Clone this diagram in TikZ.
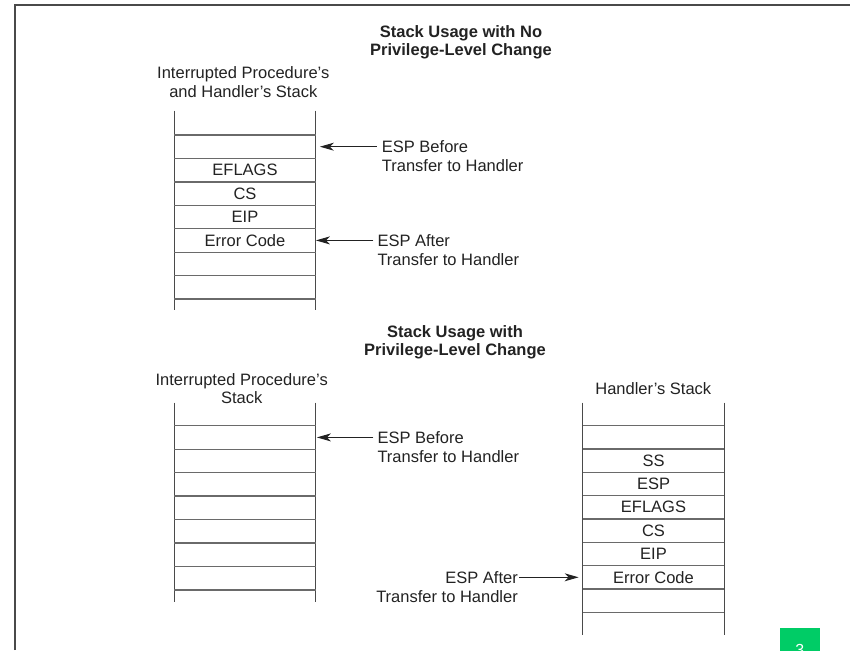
\documentclass[tikz,border=0pt]{standalone}
\usepackage{fontspec}
\setmainfont{Liberation Sans}
\usetikzlibrary{arrows.meta}
\definecolor{ink}{HTML}{222222}
\definecolor{vrule}{HTML}{4A4A4A}
\definecolor{hrule}{HTML}{6A6A6A}
\definecolor{tag}{HTML}{00CC66}
\begin{document}
\begin{tikzpicture}[x=1pt,y=-1pt,
  txt/.style={font=\fontsize{16.5}{18.5}\selectfont, text=ink, inner sep=0pt},
  title/.style={txt, font=\fontsize{16.5}{18.5}\selectfont\bfseries, align=center, anchor=north},
  head/.style={txt, align=center, anchor=north},
  lbl/.style={txt, align=left, anchor=north west},
  lblr/.style={txt, align=right, anchor=north east},
  cell/.style={txt, minimum width=141.4pt, minimum height=23.4pt},
  vline/.style={draw=vrule, line width=1.4pt},
  hline/.style={draw=hrule, line width=1.3pt},
  arr/.style={draw=ink, line width=1.1pt, -{Stealth[length=14pt,width=8pt,inset=4pt]}},
  frame/.style={draw=vrule, line width=1.4pt}]
\useasboundingbox (0,0) rectangle (850,650);
% frame
\draw[frame] (15,650) -- (15,5) -- (850,5);

% ---------- Part 1: no privilege-level change ----------
\node[title] (t1) at (461,25) {Stack Usage with No\\Privilege-Level Change};
\node[head] (h1) at (243.3,66.7) {Interrupted Procedure’s\\and Handler’s Stack};
\draw[vline] (174.3,110.7) -- (174.3,310);
\draw[vline] (315.7,110.7) -- (315.7,310);
\foreach \k in {0,...,7} \draw[hline] (174.3,{135+23.43*\k}) -- (315.7,{135+23.43*\k});
\node[cell] (a1) at (245,146.7) {};
\node[cell] (a2) at (245,170.1) {EFLAGS};
\node[cell] (a3) at (245,193.6) {CS};
\node[cell] (a4) at (245,217.0) {EIP};
\node[cell] (a5) at (245,240.4) {Error Code};
\node[lbl] (ab) at (381.7,140.8) {ESP Before\\Transfer to Handler};
\node[lbl] (aa) at (377.3,234.5) {ESP After\\Transfer to Handler};
\draw[arr] ([xshift=-5pt]ab.north west |- a1.east) -- ([xshift=4pt]a1.east);
\draw[arr] ([xshift=-4pt]aa.north west |- a5.east) -- (a5.east);

% ---------- Part 2: privilege-level change ----------
\node[title] (t2) at (455,325) {Stack Usage with\\Privilege-Level Change};
\node[head] (h2) at (241.7,373) {Interrupted Procedure’s\\Stack};
\node[head] (h3) at (653.3,382.7) {Handler’s Stack};

% interrupted procedure's stack
\draw[vline] (174.3,402.7) -- (174.3,601.7);
\draw[vline] (315.7,402.7) -- (315.7,601.7);
\foreach \k in {0,...,7} \draw[hline] (174.3,{425.7+23.47*\k}) -- (315.7,{425.7+23.47*\k});
\node[cell] (b1) at (245,437.4) {};
\node[lbl] (bb) at (377.3,431.5) {ESP Before\\Transfer to Handler};
\draw[arr] ([xshift=-4pt]bb.north west |- b1.east) -- ([xshift=1pt]b1.east);

% handler's stack
\draw[vline] (582.7,402.7) -- (582.7,635);
\draw[vline] (724.3,402.7) -- (724.3,635);
\foreach \k in {0,...,8} \draw[hline] (582.7,{425.7+23.33*\k}) -- (724.3,{425.7+23.33*\k});
\node[cell] (c1) at (653.5,460.7) {SS};
\node[cell] (c2) at (653.5,484.0) {ESP};
\node[cell] (c3) at (653.5,507.3) {EFLAGS};
\node[cell] (c4) at (653.5,530.7) {CS};
\node[cell] (c5) at (653.5,554.0) {EIP};
\node[cell] (c6) at (653.5,577.3) {Error Code};
\node[lblr] (ca) at (518,571.4) {ESP After\\Transfer to Handler};
\draw[arr] ([xshift=1pt]ca.north east |- c6.west) -- ([xshift=-4pt]c6.west);

% page tag
\node[fill=tag, text=white, inner sep=0pt, minimum width=40.7pt, minimum height=43.6pt,
      anchor=north west, font=\fontsize{16}{18}\selectfont] (pg) at (779.3,627.7) {3};
\end{tikzpicture}
\end{document}
